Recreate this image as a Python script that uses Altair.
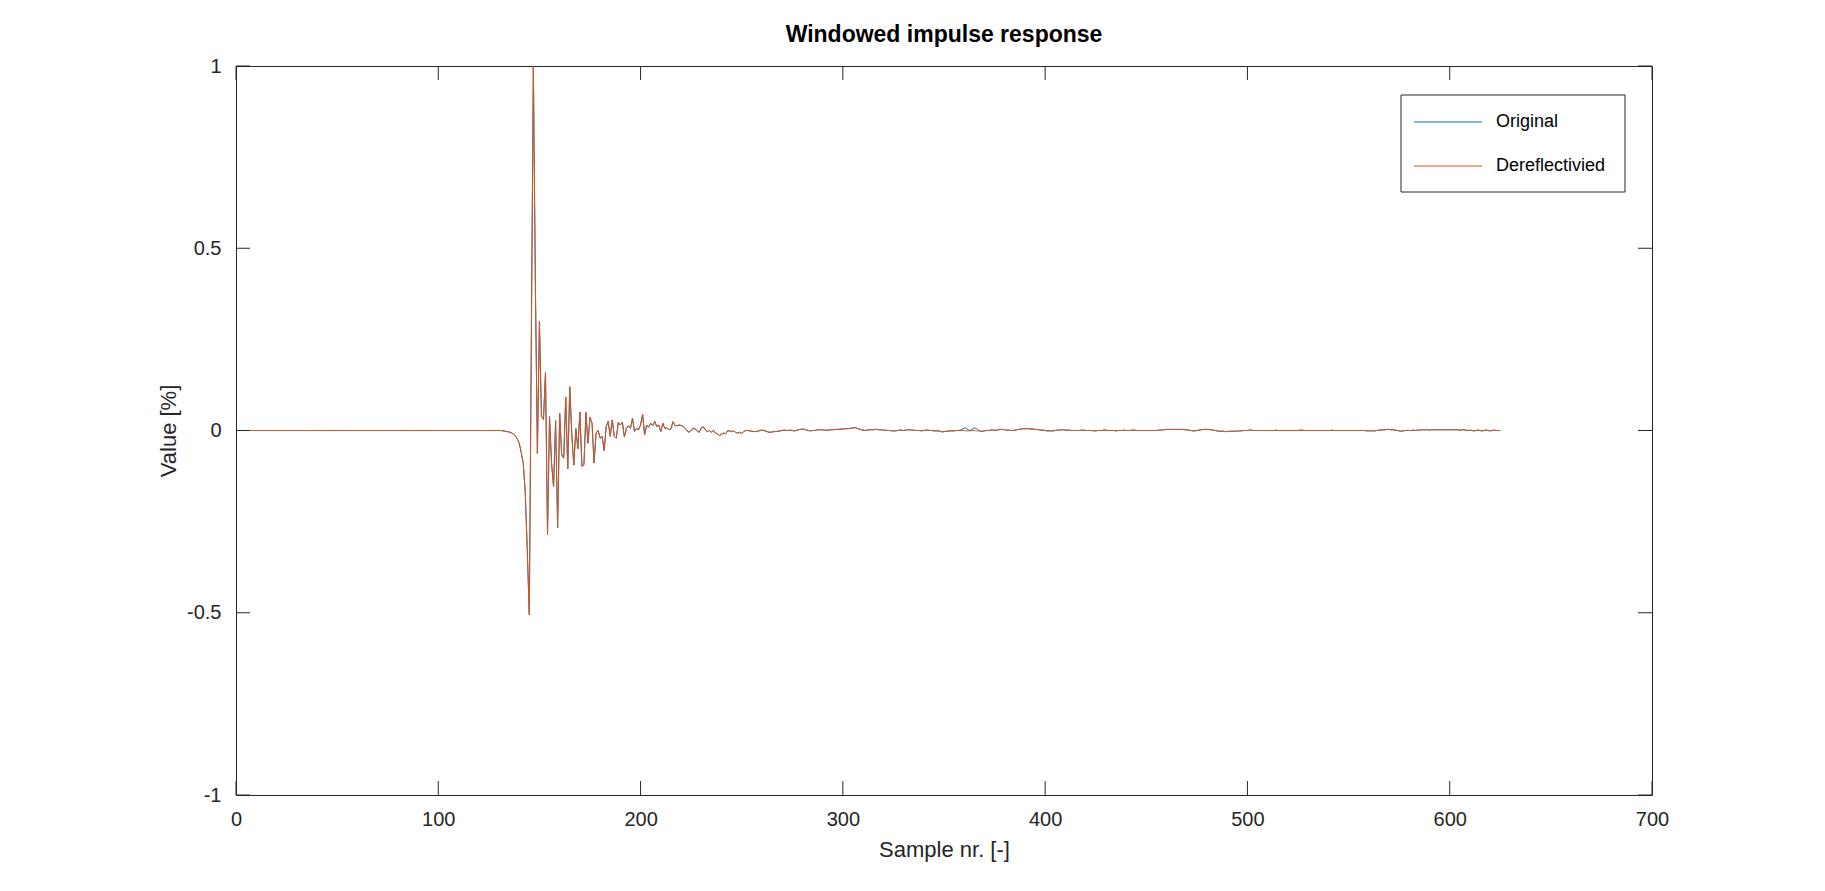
import altair as alt
import pandas as pd

# ---------------- data ----------------
x_ticks = [0, 100, 200, 300, 400, 500, 600, 700]
y_ticks = [-1, -0.5, 0, 0.5, 1]
series_names = ["Original", "Dereflectivied"]
series_colors = ["#0072BD", "#D95319"]

# Dereflected response, stored in sections: (first sample number, values)
pre_start = 1
pre_onset = [
    0.0, 0.0, 0.0, 0.0, 0.0, 0.0, 0.0, 0.0, 0.0, 0.0, 0.0, 0.0, 0.0, 0.0, 0.0, 0.0, 0.0, 0.0, 0.0, 0.0,
    0.0, 0.0, 0.0, 0.0, 0.0, 0.0, 0.0, 0.0, 0.0, 0.0, 0.0, 0.0, 0.0, 0.0, 0.0, 0.0, 0.0, 0.0, 0.0, 0.0,
    0.0, 0.0, 0.0, 0.0, 0.0, 0.0, 0.0, 0.0, 0.0, 0.0, 0.0, 0.0, 0.0, 0.0, 0.0, 0.0, 0.0, 0.0, 0.0, 0.0,
    0.0, 0.0, 0.0, 0.0, 0.0, 0.0, 0.0, 0.0, 0.0, 0.0, 0.0, 0.0, 0.0, 0.0, 0.0, 0.0, 0.0, 0.0, 0.0, 0.0,
    0.0, 0.0, 0.0, 0.0, 0.0, 0.0, 0.0, 0.0, 0.0, 0.0, 0.0, 0.0, 0.0, 0.0, 0.0, 0.0, 0.0, 0.0, 0.0, 0.0,
    0.0, 0.0, 0.0, 0.0, 0.0, 0.0, 0.0, 0.0, 0.0, 0.0, 0.0, 0.0, 0.0, 0.0, 0.0, 0.0, 0.0, 0.0, 0.0, 0.0,
    0.0, 0.0, 0.0, 0.0, 0.0, 0.0, 0.0, 0.0, 0.0, 0.0,
]
onset_start = 131
onset = [0.0, -0.001, -0.002, -0.003, -0.004, -0.006, -0.009, -0.014, -0.022, -0.035,
         -0.06, -0.09, -0.17, -0.33, -0.506]
main_start = 146
main_pulse = [0.25, 1.0, 0.4, -0.063, 0.30, 0.04, 0.03, 0.16, -0.285, 0.038,
              -0.09, -0.155, 0.027, -0.267, 0.048, -0.066, -0.076, 0.092, -0.105, 0.12,
              -0.01, -0.095, 0.005, -0.05, 0.05]
ring_start = 171
ringing = [-0.098, -0.094, 0.049, -0.035, 0.036, 0.02, -0.089, -0.007, 0.0, -0.021,
           -0.016, -0.055, 0.011, 0.025, -0.016, 0.029, -0.016, -0.021, 0.022, 0.015,
           0.023, -0.018, 0.006, 0.013, 0.006, 0.034, -0.003, 0.006, 0.002, 0.015,
           0.045, -0.012, 0.015, 0.009, 0.02, 0.013, 0.025, 0.011, 0.015, -0.003,
           0.02, 0.006, 0.008, 0.002, 0.004, 0.024, 0.014, 0.013, 0.015, 0.014,
           0.012, 0.006, -0.001, -0.005, 0.001]
decay_start = 226
decay = [0.006, 0.004, -0.001, -0.005, 0.008, 0.01, 0.002, -0.003, 0.0, -0.005,
         0.001, -0.007, -0.009, -0.014, -0.01, -0.007, -0.009, -0.001, -0.001, -0.003,
         -0.001, -0.005, -0.007, -0.005, -0.008, -0.003, 0.0, 0.0]
tail1_start = 254
tail1 = [-0.001, -0.002, -0.003, -0.003, -0.002, 0.0, 0.001, 0.0, -0.002, -0.004,
         -0.005, -0.004, -0.003, -0.003, -0.002, -0.001, 0.0, 0.001, 0.0, 0.0,
         0.001, 0.0, -0.001, 0.0, 0.002, 0.003, 0.004, 0.003, 0.001, 0.0,
         -0.001, 0.0, 0.0, 0.001, 0.002, 0.002, 0.002, 0.001, 0.001, 0.001,
         0.002, 0.002, 0.003, 0.003, 0.003, 0.004, 0.004, 0.005, 0.005, 0.005,
         0.006, 0.007, 0.008, 0.006, 0.004, 0.002, 0.001, 0.0, 0.001, 0.002,
         0.002, 0.002, 0.003, 0.003, 0.002]
tail2_start = 319
tail2 = [0.002, 0.001, 0.001, 0.0, 0.0, -0.001, -0.001, -0.001, 0.0, 0.001,
         0.001, 0.0, 0.001, 0.002, 0.002, 0.001, 0.001, 0.0, 0.0, 0.0,
         -0.001, 0.0, 0.001, 0.001, 0.0, 0.0, -0.001, -0.001, -0.001, -0.002,
         -0.004, -0.003, -0.002, -0.002, -0.001, -0.001, -0.001, 0.0, 0.0, 0.0,
         0.0, 0.0, -0.001, -0.001, -0.001, 0.0, 0.0, -0.001, -0.001, -0.002,
         -0.002, -0.001, 0.0, 0.0, 0.001, 0.001, 0.001, 0.001, 0.002, 0.003,
         0.003, 0.002, 0.001, 0.001, 0.0, 0.0, 0.001, 0.002, 0.003, 0.004,
         0.005, 0.005, 0.005, 0.005, 0.004, 0.004, 0.003, 0.003, 0.002, 0.001,
         0.001, 0.0, -0.001, -0.001, -0.001, -0.001, 0.0, 0.001, 0.001, 0.002,
         0.002, 0.001, 0.001, 0.001, 0.0, 0.0, 0.0, 0.0, 0.0, 0.001,
         0.001, 0.0, 0.0, 0.0, 0.0, -0.001, -0.001, 0.0, 0.0, 0.0,
         0.001, 0.001, 0.0, 0.0, 0.0, 0.0, -0.001, 0.0, 0.0, 0.0,
         0.001, 0.0, 0.0]
tail3_start = 442
tail3 = [0.0, 0.001, 0.001, 0.0, 0.0, 0.0, 0.0, 0.0, 0.0, 0.0,
         0.0, 0.0, 0.0, 0.0, 0.001, 0.001, 0.002,
         0.002, 0.003, 0.003, 0.003, 0.003, 0.003, 0.003, 0.003, 0.003, 0.003,
         0.002, 0.002, 0.001, 0.0,
         -0.001, -0.001, 0.0, 0.001, 0.002, 0.003, 0.003, 0.003, 0.003, 0.002,
         0.001, 0.0,
         -0.001, -0.002, -0.002, -0.002, -0.003, -0.003, -0.002, -0.002, -0.002, -0.002,
         -0.002, -0.001, -0.001]
tail4_start = 498
tail4 = [0.0, 0.0, 0.0, 0.001, 0.001, 0.0, 0.0, 0.0, 0.0, 0.0,
         0.0, 0.0, 0.0, 0.0, 0.0, 0.0, 0.001, 0.0, 0.0, 0.0,
         0.0, 0.0, 0.0, 0.0, 0.0, 0.0, 0.0, 0.0, 0.001, 0.001,
         0.0, 0.0, 0.0, 0.0, 0.0, 0.0, 0.0, 0.0, 0.0, 0.0,
         0.0, 0.0, 0.0, 0.0, 0.001, 0.0, 0.0, 0.0, 0.0, 0.0,
         0.0, 0.0, 0.0, 0.0, 0.0, 0.0, 0.0, 0.0, 0.0, 0.0,
         0.0,
         -0.001, -0.001, -0.001, -0.001, -0.001,
         0.0, 0.001, 0.001,
         0.002, 0.002, 0.003, 0.003, 0.002, 0.002, 0.001,
         0.0, -0.001, -0.002, -0.001, 0.0, 0.0, 0.0, 0.0, 0.001, 0.0, 0.001, 0.001]
tail5_start = 586
tail5 = [0.002, 0.002, 0.002, 0.002, 0.001, 0.002, 0.002, 0.002, 0.002, 0.002,
         0.002, 0.002, 0.002, 0.002, 0.002, 0.002, 0.002, 0.002, 0.002, 0.001,
         0.002, 0.002, 0.001,
         0.0, 0.001, 0.0, -0.001, 0.0, 0.001, 0.0, -0.001, 0.0, 0.001,
         0.0, -0.001, 0.0, 0.001, 0.0, 0.0, 0.0]

sections = [
    (pre_start, pre_onset), (onset_start, onset), (main_start, main_pulse),
    (ring_start, ringing), (decay_start, decay), (tail1_start, tail1),
    (tail2_start, tail2), (tail3_start, tail3), (tail4_start, tail4),
    (tail5_start, tail5),
]

# Samples where the original differs from the dereflected response
original_diff_samples = [358, 359, 360, 361, 362, 363, 364, 365, 366, 367]
original_diff_values = [0.001, 0.004, 0.007, 0.006, 0.002, 0.0, 0.004, 0.007, 0.006, 0.001]

# ---------------- build tables ----------------
samples, dereflected = [], []
for start, vals in sections:
    for i, v in enumerate(vals):
        samples.append(start + i)
        dereflected.append(v)
original = list(dereflected)
for s, v in zip(original_diff_samples, original_diff_values):
    if s in samples:
        original[samples.index(s)] = v

df_orig = pd.DataFrame({"sample": samples, "value": original})
df_deref = pd.DataFrame({"sample": samples, "value": dereflected})

W, H = 1416, 729
TICK = 14
AX = "#262626"
FONT = "Liberation Sans"

x_enc = alt.X(
    "sample:Q",
    scale=alt.Scale(domain=[0, 700], nice=False, zero=False),
    axis=alt.Axis(values=x_ticks, title="Sample nr. [-]", ticks=False, domain=False,
                  grid=False, labelFontSize=20, labelPadding=14, labelColor=AX,
                  labelFlush=False, labelFont=FONT, titleFont=FONT, titleFontSize=22,
                  titleFontWeight="normal", titleColor=AX, titlePadding=10,
                  labelExpr="toString(datum.value)"),
)
y_enc = alt.Y(
    "value:Q",
    scale=alt.Scale(domain=[-1, 1], nice=False, zero=False),
    axis=alt.Axis(values=y_ticks, title="Value [%]", ticks=False, domain=False,
                  grid=False, labelFontSize=20, labelPadding=15, labelColor=AX,
                  labelFlush=False, labelFont=FONT, titleFont=FONT, titleFontSize=22,
                  titleFontWeight="normal", titleColor=AX, titlePadding=6,
                  labelExpr="toString(datum.value)"),
)

line_orig = alt.Chart(df_orig).mark_line(color=series_colors[0], strokeWidth=1).encode(
    x=x_enc, y=y_enc)
line_deref = alt.Chart(df_deref).mark_line(color=series_colors[1], strokeWidth=1).encode(
    x="sample:Q", y="value:Q")

xt = pd.DataFrame({"sample": x_ticks})
yt = pd.DataFrame({"value": y_ticks})
tick_top = alt.Chart(xt).mark_rule(color=AX, strokeWidth=1).encode(
    x="sample:Q", y=alt.value(0), y2=alt.value(TICK))
tick_bot = alt.Chart(xt).mark_rule(color=AX, strokeWidth=1).encode(
    x="sample:Q", y=alt.value(H), y2=alt.value(H - TICK))
tick_left = alt.Chart(yt).mark_rule(color=AX, strokeWidth=1).encode(
    y="value:Q", x=alt.value(0), x2=alt.value(TICK))
tick_right = alt.Chart(yt).mark_rule(color=AX, strokeWidth=1).encode(
    y="value:Q", x=alt.value(W - TICK), x2=alt.value(W))

# legend (drawn inside the axes, like the reference)
one = pd.DataFrame({"k": [0]})
leg_box = alt.Chart(one).mark_rect(fill="white", stroke=AX, strokeWidth=1).encode(
    x=alt.value(1165), x2=alt.value(1389), y=alt.value(29), y2=alt.value(126))
leg_l1 = alt.Chart(one).mark_rule(color=series_colors[0], strokeWidth=1).encode(
    x=alt.value(1178), x2=alt.value(1246), y=alt.value(56))
leg_l2 = alt.Chart(one).mark_rule(color=series_colors[1], strokeWidth=1).encode(
    x=alt.value(1178), x2=alt.value(1246), y=alt.value(100))
leg_t1 = alt.Chart(one).mark_text(align="left", baseline="middle", fontSize=18,
                                  font=FONT, color="black").encode(
    x=alt.value(1260), y=alt.value(56), text=alt.value(series_names[0]))
leg_t2 = alt.Chart(one).mark_text(align="left", baseline="middle", fontSize=18,
                                  font=FONT, color="black").encode(
    x=alt.value(1260), y=alt.value(100), text=alt.value(series_names[1]))

chart = alt.layer(
    line_orig, line_deref, tick_top, tick_bot, tick_left, tick_right,
    leg_box, leg_l1, leg_l2, leg_t1, leg_t2,
).properties(
    width=W, height=H,
    title=alt.TitleParams("Windowed impulse response", fontSize=23, fontWeight="bold",
                          font=FONT, color="black", anchor="middle", offset=9),
    autosize=alt.AutoSizeParams(type="none"),
    padding={"left": 228, "top": 58, "right": 150, "bottom": 80},
).configure(
    background="white"
).configure_view(
    stroke=AX, strokeWidth=1
)

chart.save("out.html", embed_options={"renderer": "svg", "actions": False})
